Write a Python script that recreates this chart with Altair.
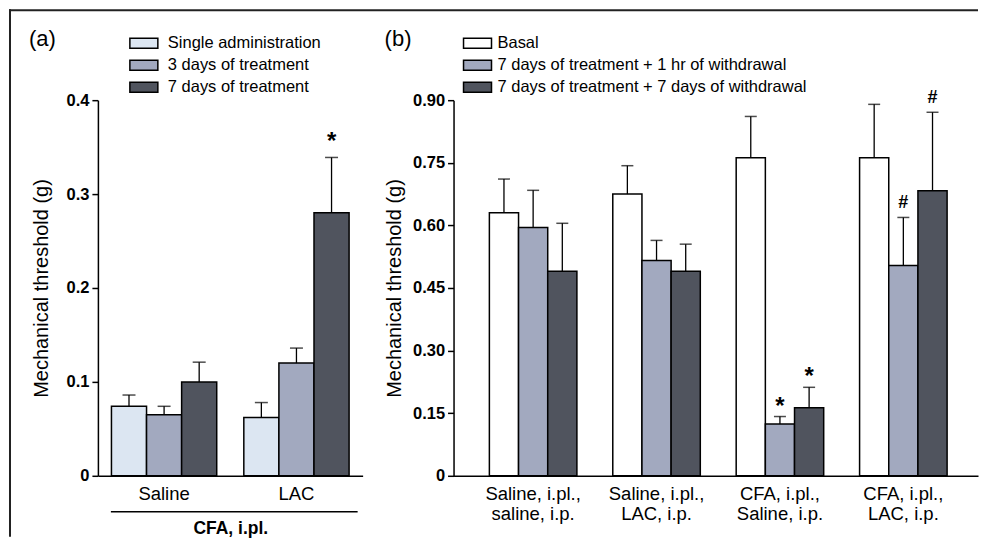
import altair as alt
import pandas as pd

# ---------------- Panel (a) data ----------------
a_groups = ["Saline", "LAC"]
a_series = ["Single administration", "3 days of treatment", "7 days of treatment"]
a_means = [[0.074, 0.065, 0.100],
           [0.062, 0.120, 0.280]]
a_sem = [[0.012, 0.009, 0.021],
         [0.016, 0.016, 0.059]]
a_marks = [["", "", ""],
           ["", "", "*"]]
a_colors = ["#dce6f2", "#a2a9bf", "#50545e"]
a_ticks = [0, 0.1, 0.2, 0.3, 0.4]
a_group_title = "CFA, i.pl."

# ---------------- Panel (b) data ----------------
b_groups = ["Saline, i.pl.,\nsaline, i.p.",
            "Saline, i.pl.,\nLAC, i.p.",
            "CFA, i.pl.,\nSaline, i.p.",
            "CFA, i.pl.,\nLAC, i.p."]
b_series = ["Basal",
            "7 days of treatment + 1 hr of withdrawal",
            "7 days of treatment + 7 days of withdrawal"]
b_means = [[0.630, 0.595, 0.490],
           [0.675, 0.516, 0.490],
           [0.762, 0.124, 0.163],
           [0.762, 0.504, 0.683]]
b_sem = [[0.081, 0.089, 0.115],
         [0.068, 0.048, 0.065],
         [0.099, 0.018, 0.049],
         [0.128, 0.115, 0.188]]
b_marks = [["", "", ""],
           ["", "", ""],
           ["", "*", "*"],
           ["", "#", "#"]]
b_colors = ["#ffffff", "#a2a9bf", "#50545e"]
b_ticks = [0, 0.15, 0.30, 0.45, 0.60, 0.75, 0.90]

panel_labels = ["(a)", "(b)"]
y_title = "Mechanical threshold (g)"
FONT = "Liberation Sans"


def make_df(groups, series, means, sems, marks):
    rows = []
    for gi, g in enumerate(groups):
        for si, s in enumerate(series):
            m = means[gi][si]
            rows.append(dict(group=g, series=s, mean=m, top=m + sems[gi][si],
                             mark=marks[gi][si]))
    return pd.DataFrame(rows)


def panel(df, groups, series, colors, ticks, ymax, fmt, pad_outer, align,
          off_pad, cap, legend_x, label_offset, title_pad, x_title, label_text,
          sig_specs, multiline):
    x_axis = alt.Axis(labelAngle=0, ticks=False, tickSize=0, labelPadding=9,
                      labelFontSize=18.5, labelFontWeight="normal", labelLimit=400,
                      labelLineHeight=20,
                      labelExpr="split(datum.label, '\\n')" if multiline else "datum.label",
                      title=x_title, titleFontSize=17.5, titleFontWeight="bold",
                      titlePadding=16)
    x = alt.X("group:N", sort=groups,
              scale=alt.Scale(type="band", paddingInner=0, paddingOuter=pad_outer, align=align),
              axis=x_axis)
    xo = alt.XOffset("series:N", sort=series,
                     scale=alt.Scale(type="band", paddingInner=0, paddingOuter=off_pad))
    y_axis = alt.Axis(values=ticks,
                      labelExpr="datum.value == 0 ? '0' : format(datum.value, '%s')" % fmt,
                      labelFontSize=16.5, labelFontWeight="bold", tickSize=6,
                      labelPadding=3, titleFontSize=20, titleFontWeight="normal",
                      titlePadding=title_pad)

    def y_of(field):
        return alt.Y(field, scale=alt.Scale(domain=[0, ymax], nice=False, zero=True),
                     axis=y_axis, title=y_title)

    fill = alt.Fill("series:N", sort=series,
                    scale=alt.Scale(domain=series, range=colors),
                    legend=alt.Legend(orient="none", legendX=legend_x, legendY=-68,
                                      title=None,
                                      symbolType="M-1.4,-0.5H1.4V0.5H-1.4Z",
                                      symbolSize=400, symbolStrokeColor="black",
                                      symbolStrokeWidth=1.5, symbolOpacity=1,
                                      labelFontSize=16.5, labelFont=FONT,
                                      labelColor="black", rowPadding=2,
                                      labelOffset=label_offset, labelLimit=600, padding=0))
    base = alt.Chart(df)
    bars = base.mark_bar(stroke="black", strokeWidth=1.5).encode(
        x=x, xOffset=xo, y=y_of("mean:Q"), fill=fill)
    err = base.mark_rule(color="black", strokeWidth=1.3).encode(
        x=x, xOffset=xo, y=y_of("mean:Q"), y2="top:Q")
    caps = base.mark_tick(color="black", thickness=1.5, size=cap).encode(
        x=x, xOffset=xo, y=y_of("top:Q"))
    layers = [bars, err, caps]
    for sym, size, dy in sig_specs:
        layers.append(
            base.transform_filter(alt.datum.mark == sym)
            .mark_text(fontSize=size, fontWeight="bold", dy=dy, baseline="alphabetic",
                       color="black", font=FONT)
            .encode(x=x, xOffset=xo, y=y_of("top:Q"), text="mark:N"))
    lab = alt.Chart(pd.DataFrame({"label": [label_text]})).mark_text(
        fontSize=22, align="left", baseline="middle", color="black", font=FONT
    ).encode(x=alt.value(-69), y=alt.value(-61), text="label:N")
    layers.append(lab)
    return layers


df_a = make_df(a_groups, a_series, a_means, a_sem, a_marks)
df_b = make_df(b_groups, b_series, b_means, b_sem, b_marks)

layers_a = panel(df_a, a_groups, a_series, a_colors, a_ticks, 0.4, ".1f", 0, 0.5,
                 0.386, 13, 35, 13, 15, a_group_title, panel_labels[0],
                 [("*", 24, -8)], False)
layers_b = panel(df_b, b_groups, b_series, b_colors, b_ticks, 0.9, ".2f", 0.125, 0.58,
                 0.615, 12, 13, 9, 8, None, panel_labels[1],
                 [("*", 24, -3), ("#", 18, -9)], True)

one = pd.DataFrame({"k": [0]})
# underline under group labels in panel (a)
underline = alt.Chart(one).mark_rule(color="black", strokeWidth=1.3).encode(
    x=alt.value(13), x2=alt.value(260), y=alt.value(412))
# figure frame (top and left edges)
frame_top = alt.Chart(one).mark_rule(color="#222222", strokeWidth=2, strokeCap="square").encode(
    x=alt.value(-88), x2=alt.value(880), y=alt.value(-90))
frame_left = alt.Chart(one).mark_rule(color="#222222", strokeWidth=2, strokeCap="square").encode(
    x=alt.value(-88), y=alt.value(-90), y2=alt.value(436))

panel_a = alt.layer(*layers_a, underline, frame_top, frame_left).properties(width=265, height=376)
panel_b = alt.layer(*layers_b).properties(width=525, height=376)

chart = (
    alt.hconcat(panel_a, panel_b, spacing=91, bounds="flush")
    .resolve_scale(x="independent", y="independent", xOffset="independent",
                   fill="independent")
    .resolve_axis(x="independent", y="independent")
    .resolve_legend(fill="independent")
    .properties(padding=0)
    .configure(font=FONT)
    .configure_view(stroke=None)
    .configure_axis(grid=False, domainColor="black", tickColor="black",
                    labelColor="black", titleColor="black", domainWidth=1.5,
                    tickWidth=1.5, labelFont=FONT, titleFont=FONT)
)

chart.save("out.html", embed_options={"renderer": "svg", "actions": False})
